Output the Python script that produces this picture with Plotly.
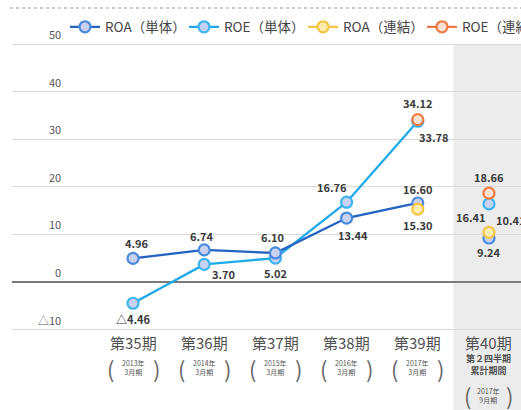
import plotly.graph_objects as go

# ---- data -------------------------------------------------------------
periods = ["第35期", "第36期", "第37期", "第38期", "第39期", "第40期"]
fiscal_year = ["2013年", "2014年", "2015年", "2016年", "2017年", "2017年"]
fiscal_month = ["3月期", "3月期", "3月期", "3月期", "3月期", "9月期"]
interim_note = "第２四半期<br>累計期間"

roa_single = [4.96, 6.74, 6.10, 13.44, 16.60, 9.24]
roe_single = [-4.46, 3.70, 5.02, 16.76, 33.78, 16.41]
roa_consol = [None, None, None, None, 15.30, 10.41]
roe_consol = [None, None, None, None, 34.12, 18.66]

series_names = ["ROA（単体）", "ROE（単体）", "ROA（連結）", "ROE（連結）"]

y_tick_vals = [50, 40, 30, 20, 10, 0, -10]
y_tick_text = ["50", "40", "30", "20", "10", "0", "△10"]

# ---- styling ----------------------------------------------------------
FONT = "Noto Sans CJK JP, Noto Sans, sans-serif"
W, H = 521, 410
M_L, M_R, M_T, M_B = 12, 0, 40, 0
PLOT_H = H - M_T - M_B
PLOT_W = W - M_L - M_R

line_colors = ["#2463c2", "#1ea9e8", "#f6c445", "#ee7a44"]
edge_colors = ["#4a8ade", "#3db6ef", "#f6c445", "#ee7a44"]
fill_colors = ["#c8d1ef", "#c8d1ef", "#fdeeb0", "#fbe2d4"]
legend_widths = [None, None, None, 100]

# label offsets (px) from each point: (dx, dy), dy positive = up
offs_roa_single = [(4, 15), (-2, 14), (-3, 16), (6, -17), (0, 14), (0, -14)]
offs_roe_single = [(0, -16), (19, -10), (0, -15), (-15, 15), (16, -16), (-18, -13)]
offs_roa_consol = [None, None, None, None, (0, -16), (22, 12)]
offs_roe_consol = [None, None, None, None, (0, 17), (0, 16)]


def py(px):
    """pixel row -> paper y"""
    return (H - M_B - px) / PLOT_H


def pxx(px):
    """pixel column -> paper x"""
    return (px - M_L) / PLOT_W


def fmt(v):
    return ("△" if v < 0 else "") + f"{abs(v):.2f}"


def split_last(xs, ys):
    """break the line before the interim (last) period"""
    px_, py_ = [], []
    for i, (x, y) in enumerate(zip(xs, ys)):
        if i == len(xs) - 1:
            px_.append(None)
            py_.append(None)
        px_.append(x)
        py_.append(y)
    return px_, py_


fig = go.Figure()

draw_order = [1, 0, 2, 3]
all_series = [roa_single, roe_single, roa_consol, roe_consol]
for k in draw_order:
    xs, ys = split_last(periods, all_series[k])
    fig.add_trace(go.Scatter(
        x=xs, y=ys, name=series_names[k], mode="lines+markers",
        connectgaps=False, legendrank=k + 1, cliponaxis=False,
        legendwidth=legend_widths[k],
        line=dict(color=line_colors[k], width=2.3),
        marker=dict(size=11, color=fill_colors[k],
                    line=dict(color=edge_colors[k], width=2.2)),
        hoverinfo="skip",
    ))

annotations = []

# value labels
for vals, offs in [(roa_single, offs_roa_single), (roe_single, offs_roe_single),
                   (roa_consol, offs_roa_consol), (roe_consol, offs_roe_consol)]:
    for p, v, o in zip(periods, vals, offs):
        if v is None:
            continue
        annotations.append(dict(
            x=p, y=v, xref="x", yref="y", text=fmt(v), showarrow=False,
            xshift=o[0], yshift=o[1],
            font=dict(family=FONT, size=11, color="#3a3a3a", weight="bold"),
        ))

# y-axis labels inside the plot, right aligned above the grid lines
for v, t in zip(y_tick_vals, y_tick_text):
    annotations.append(dict(
        x=pxx(63), y=v, xref="paper", yref="y", text=t, showarrow=False,
        xanchor="right", yanchor="bottom", yshift=0,
        font=dict(family=FONT, size=11, color="#555555"),
    ))

# category labels
for i, p in enumerate(periods):
    annotations.append(dict(
        x=p, y=py(342), xref="x", yref="paper", text=p, showarrow=False,
        xanchor="center", yanchor="middle",
        font=dict(family=FONT, size=15, color="#505050"),
    ))
    if i < len(periods) - 1:
        sub_y, half = 367.5, 23
    else:
        annotations.append(dict(
            x=p, y=py(364), xref="x", yref="paper", text=interim_note,
            showarrow=False, xanchor="center", yanchor="middle",
            font=dict(family=FONT, size=9, color="#505050", weight="bold"),
        ))
        sub_y, half = 395, 21
    annotations.append(dict(
        x=p, y=py(sub_y), xref="x", yref="paper",
        text=f"{fiscal_year[i]}<br>{fiscal_month[i]}", showarrow=False,
        xanchor="center", yanchor="middle",
        font=dict(family=FONT, size=7, color="#555555"),
    ))
    for sign, br in [(-1, "("), (1, ")")]:
        annotations.append(dict(
            x=p, y=py(sub_y), xref="x", yref="paper", text=br,
            showarrow=False, xanchor="center", yanchor="middle",
            xshift=sign * half,
            font=dict(family=FONT, size=22, color="#666666"),
        ))

shapes = [
    # interim period band
    dict(type="rect", xref="x", yref="y", x0=4.5, x1=6.5, y0=-40, y1=50,
         fillcolor="#ececec", line=dict(width=0), layer="below"),
    # dotted rule at the top
    dict(type="line", xref="paper", yref="paper", x0=pxx(10), x1=1.05,
         y0=py(8), y1=py(8), line=dict(color="#bbbbbb", width=1.5, dash="dot")),
]

fig.update_layout(
    width=W, height=H,
    margin=dict(l=M_L, r=M_R, t=M_T, b=M_B, autoexpand=False),
    paper_bgcolor="white", plot_bgcolor="white",
    font=dict(family=FONT, color="#444444"),
    showlegend=True,
    legend=dict(
        orientation="h", x=pxx(65), y=py(27), xanchor="left", yanchor="middle",
        font=dict(family=FONT, size=13.5, color="#444444"),
        entrywidth=74, entrywidthmode="pixels", bgcolor="rgba(0,0,0,0)",
        itemclick=False, itemdoubleclick=False,
    ),
    xaxis=dict(type="category", categoryorder="array", categoryarray=periods,
               range=[-1.70, 5.45], showticklabels=False, showgrid=False,
               zeroline=False, showline=False, fixedrange=True),
    yaxis=dict(range=[-26.89, 50.84], tickvals=y_tick_vals, showticklabels=False,
               showgrid=True, gridcolor="#d9d9d9", gridwidth=1,
               zeroline=True, zerolinecolor="#7a7a7a", zerolinewidth=1.6,
               showline=False, fixedrange=True),
    annotations=annotations,
    shapes=shapes,
)

fig.write_html("out.html")
